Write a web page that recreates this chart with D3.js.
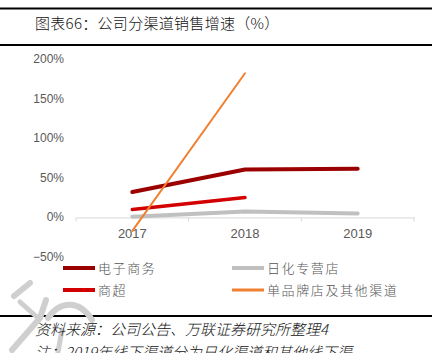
<!DOCTYPE html>
<html><head><meta charset="utf-8">
<script src="https://cdn.jsdelivr.net/npm/d3@7"></script>
<style>body{margin:0;background:#fff}svg{display:block}</style>
</head><body>
<svg id="c" width="438" height="353"></svg>
<script>
const years = ["2017","2018","2019"];
const yTicks = [-50,0,50,100,150,200];
const seriesNames = ["电子商务","日化专营店","商超","单品牌店及其他渠道"];
const ecommerce = [32, 60.5, 61.5];
const dailyChem = [0.8, 7.5, 5];
const supermarket = [10, 25, null];
const singleBrand = [-17, 182, null];
const colors = ["#9b0000","#c0c0c0","#d20000","#f07f30"];
const widths = [4,4,3.5,2];

const svg = d3.select("#c");
const font = "'Noto Sans CJK SC', sans-serif";

// frame lines
svg.append("rect").attr("x",0).attr("y",7.5).attr("width",432).attr("height",2).attr("fill","#000");
svg.append("rect").attr("x",0).attr("y",44).attr("width",432).attr("height",2).attr("fill","#000");
svg.append("rect").attr("x",0).attr("y",315).attr("width",432).attr("height",2).attr("fill","#000");
svg.append("text").attr("x",35).attr("y",29).attr("font-family",font).attr("font-size",15).attr("font-weight",300)
  .attr("letter-spacing",0.3).attr("fill","#111").text("图表66：公司分渠道销售增速（%）");

// watermark
const wm = svg.append("g").attr("fill","none").attr("stroke","#cfcfcf").attr("stroke-linecap","round");
wm.append("path").attr("d","M30 283 L14 296").attr("stroke-width",6);
wm.append("path").attr("d","M20 302 L38 318").attr("stroke-width",5);
wm.append("path").attr("d","M12 350 L40 318 L46 300").attr("stroke-width",6);
wm.append("path").attr("d","M48 318 C60 300 80 300 92 320").attr("stroke-width",6);
wm.append("path").attr("d","M62 330 L58 352").attr("stroke-width",5);

const x = d3.scaleBand().domain(years).range([76,414]);
const y = d3.scaleLinear().domain([-50,200]).range([257,59]);

// y labels
svg.append("g").selectAll("text").data(yTicks).join("text")
  .attr("x",64).attr("y",d=>y(d)+4).attr("text-anchor","end")
  .attr("font-family","Arial, 'Liberation Sans', sans-serif").attr("font-size",12).attr("fill","#595959")
  .text(d=> (d<0?"\u2212"+Math.abs(d):d)+"%");

// x axis
const xa = svg.append("g").attr("transform",`translate(0,${y(0)})`)
  .call(d3.axisBottom(x).tickSize(0).tickPadding(11));
xa.select(".domain").attr("stroke","#d9d9d9");
xa.selectAll("text").attr("font-family","Arial, 'Liberation Sans', sans-serif").attr("font-size",13).attr("fill","#595959");
const bounds = [76, 76+x.bandwidth(), 76+2*x.bandwidth(), 414];
xa.selectAll("line.b").data(bounds).join("line").attr("class","b")
  .attr("x1",d=>d).attr("x2",d=>d).attr("y1",0).attr("y2",4).attr("stroke","#d9d9d9");

const data = [ecommerce, dailyChem, supermarket, singleBrand];
const order = [1,0,2,3];
const line = d3.line().defined(d=>d!=null).x((d,i)=>x(years[i])+x.bandwidth()/2).y(d=>y(d));
order.forEach(k=>{
  svg.append("path").attr("d",line(data[k])).attr("fill","none")
    .attr("stroke",colors[k]).attr("stroke-width",widths[k]).attr("stroke-linecap","round").attr("stroke-linejoin","round");
});

// legend
const legPos = [[63,268],[232,268],[63,290],[232,290]];
seriesNames.forEach((n,k)=>{
  const [lx,ly]=legPos[k];
  svg.append("line").attr("x1",lx).attr("x2",lx+32).attr("y1",ly).attr("y2",ly)
    .attr("stroke",colors[k]).attr("stroke-width",k===3?3:4);
  svg.append("text").attr("x",lx+35).attr("y",ly+5).attr("font-family",font).attr("font-size",13).attr("font-weight",300)
    .attr("letter-spacing",1.6).attr("fill","#555").text(n);
});

svg.append("text").attr("x",35).attr("y",335).attr("font-family",font).attr("font-size",15).attr("font-weight",300)
  .attr("font-style","italic").attr("fill","#111").text("资料来源：公司公告、万联证券研究所整理4");
svg.append("text").attr("x",35).attr("y",358).attr("font-family",font).attr("font-size",15).attr("font-weight",300)
  .attr("font-style","italic").attr("fill","#111").text("注：2019年线下渠道分为日化渠道和其他线下渠");
</script>
</body></html>
